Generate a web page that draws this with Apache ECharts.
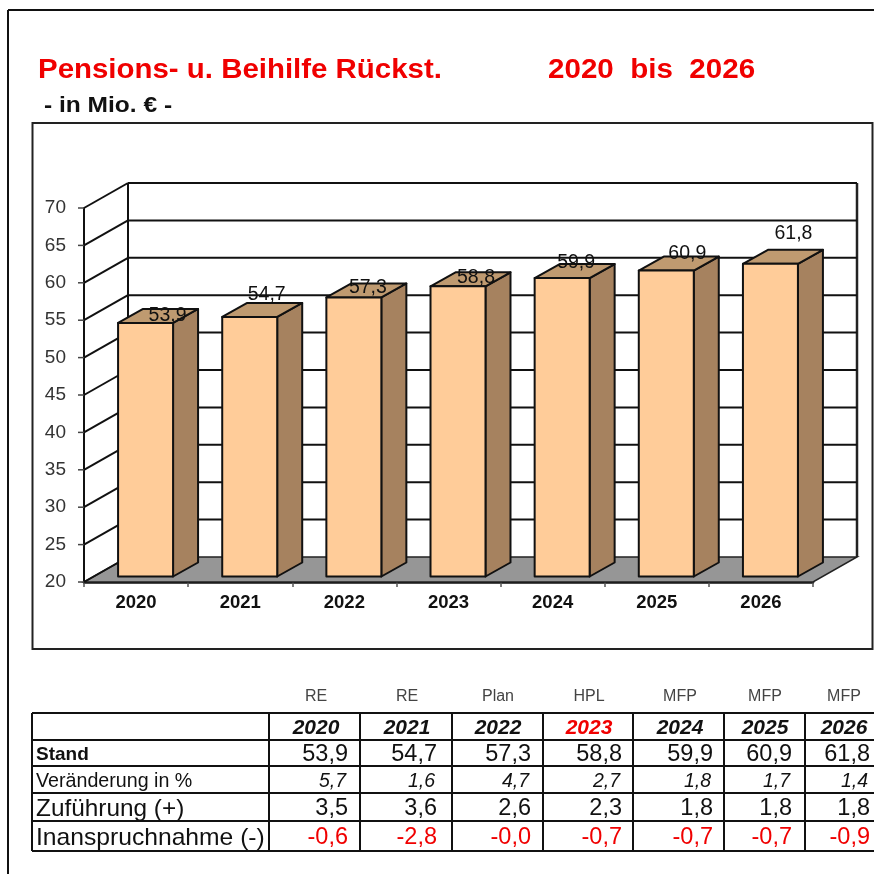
<!DOCTYPE html>
<html><head><meta charset="utf-8">
<style>html,body{margin:0;padding:0;background:#fff}#c{width:874px;height:874px}</style>
<script src="https://cdn.jsdelivr.net/npm/echarts@6/dist/echarts.min.js"></script>
</head><body><div id="c"></div>
<script>
const categories = ['2020','2021','2022','2023','2024','2025','2026'];
const stand = [53.9,54.7,57.3,58.8,59.9,60.9,61.8];
const yTicks = [20,25,30,35,40,45,50,55,60,65,70];
const planTypes = ['RE','RE','Plan','HPL','MFP','MFP','MFP'];
const standText = ['53,9','54,7','57,3','58,8','59,9','60,9','61,8'];
const changeText = ['5,7','1,6','4,7','2,7','1,8','1,7','1,4'];
const additionText = ['3,5','3,6','2,6','2,3','1,8','1,8','1,8'];
const usageText = ['-0,6','-2,8','-0,0','-0,7','-0,7','-0,7','-0,9'];

const FONT = '"Liberation Sans", Arial, sans-serif';
const wallDX = 44, wallDY = -25;
const barDX = 25, barDY = -14, barShiftX = 9.5, barShiftY = -5.5;
const labelDX = [22,17,14,18,14,21,23];
const labelDY = [-7,-22,-10,-9,-15,-17,-30];
const INK = '#111';

const colCenters = [316,407,498,589,680,765,844];
const colRights = [348,437,531,622,713,792,870];
const colLines = [32,269,360,452,543,633,724,805];
const rowLines = [713,740,766,793,821,851];

const graphics = [];
function line(x1,y1,x2,y2,w){graphics.push({type:'line',silent:true,z:5,shape:{x1,y1,x2,y2},style:{stroke:INK,lineWidth:w||2}});}
function text(t,x,y,font,fill,align,sx){graphics.push({type:'text',silent:true,z:6,x,y,scaleX:sx||1,style:{text:t,font,fill:fill||'#111',textAlign:align||'left',textVerticalAlign:'middle'}});}

line(8,10,874,10,2); line(8,10,8,874,2);
graphics.push({type:'rect',silent:true,z:1,shape:{x:32.5,y:123,width:840,height:526},style:{fill:'none',stroke:'#222',lineWidth:2}});
text('Pensions- u. Beihilfe Rückst.',38,71,'bold 27px '+FONT,'#f00000','left',1.09);
text('2020  bis  2026',548,71,'bold 27px '+FONT,'#f00000','left',1.095);
text('- in Mio. € -',44,106,'bold 22px '+FONT,'#111','left',1.115);

rowLines.forEach(y=>line(32,y,874,y,2));
colLines.forEach(x=>line(x,713,x,851,2));
const rowY = {plan:697,year:728,stand:755,change:782,add:809,use:838};
categories.forEach((c,i)=>{
  text(planTypes[i],colCenters[i],rowY.plan,'16px '+FONT,'#444','center');
  text(c,colCenters[i],rowY.year,'italic bold 21px '+FONT,c==='2023'?'#f00000':'#111','center');
  text(standText[i],colRights[i],rowY.stand,'23.5px '+FONT,'#111','right');
  text(changeText[i],colRights[i]-2,rowY.change,'italic 19.5px '+FONT,'#111','right');
  text(additionText[i],colRights[i],rowY.add,'23.5px '+FONT,'#111','right');
  text(usageText[i],colRights[i],rowY.use,'23.5px '+FONT,'#f00000','right');
});
text('Stand',36,rowY.stand,'bold 19px '+FONT);
text('Veränderung in %',36,rowY.change,'19.3px '+FONT,'#111','left',1.02);
text('Zuführung (+)',36,rowY.add,'24px '+FONT,'#111','left',1.015);
text('Inanspruchnahme (-)',36,rowY.use,'24px '+FONT,'#111','left',1.027);

const lineStyle = {stroke:INK,lineWidth:2,lineJoin:'round',fill:'none'};

const option = {
  animation:false,
  backgroundColor:'#fff',
  graphic:graphics,
  grid:{left:84,top:208,width:729,height:374,containLabel:false},
  xAxis:{type:'category',data:categories,boundaryGap:true,
    axisLine:{show:true,lineStyle:{color:INK,width:2.5}},
    axisTick:{show:true,alignWithLabel:false,length:5,lineStyle:{color:'#555',width:1.5}},
    axisLabel:{margin:11,color:'#111',fontFamily:FONT,fontWeight:'bold',fontSize:18.5},
    splitLine:{show:false}},
  yAxis:{type:'value',min:20,max:70,interval:5,
    axisLine:{show:true,onZero:false,lineStyle:{color:INK,width:2}},
    axisTick:{show:false},
    axisLabel:{margin:18,color:'#333',fontFamily:FONT,fontSize:19},
    splitLine:{show:false}},
  series:[
    {type:'custom',name:'floor',z:1,silent:true,coordinateSystem:'cartesian2d',data:[[0,20]],encode:{x:0,y:1},clip:false,
      renderItem(p,api){
        const s=api.size([1,0])[0];
        const a=api.coord([0,20]), t=api.coord([0,70]);
        const L=a[0]-s/2, R=L+s*categories.length, B=a[1], T=t[1];
        return {type:'group',children:[
          {type:'polygon',shape:{points:[[L,B],[L+wallDX,B+wallDY],[R+wallDX,B+wallDY],[R,B]]},style:{fill:'#969696',stroke:'#222',lineWidth:1.5}},
          {type:'line',shape:{x1:L+wallDX,y1:T+wallDY,x2:L+wallDX,y2:B+wallDY},style:lineStyle},
          {type:'line',shape:{x1:R+wallDX,y1:T+wallDY,x2:R+wallDX,y2:B+wallDY},style:{stroke:'#222',lineWidth:2.5}}
        ]};
      }},
    {type:'custom',name:'gridlines',z:2,silent:true,coordinateSystem:'cartesian2d',data:yTicks.map(v=>[0,v]),encode:{x:0,y:1},clip:false,
      renderItem(p,api){
        const v=api.value(1);
        const s=api.size([1,0])[0];
        const c=api.coord([0,v]);
        const L=c[0]-s/2, R=L+s*categories.length, y=c[1];
        const ch=[
          {type:'line',shape:{x1:L,y1:y,x2:L+wallDX,y2:y+wallDY},style:lineStyle},
          {type:'line',shape:{x1:L-6,y1:y,x2:L,y2:y},style:{stroke:'#444',lineWidth:1.5}}
        ];
        if(v>20) ch.push({type:'line',shape:{x1:L+wallDX,y1:y+wallDY,x2:R+wallDX,y2:y+wallDY},style:lineStyle});
        return {type:'group',children:ch};
      }},
    {type:'custom',name:'Stand',z:3,silent:true,coordinateSystem:'cartesian2d',data:stand.map((v,i)=>[i,v]),encode:{x:0,y:1},clip:false,
      renderItem(p,api){
        const i=api.value(0), v=api.value(1);
        const w=api.size([1,0])[0]*0.528;
        const top=api.coord([i,v]), base=api.coord([i,20]);
        const x0=top[0]+barShiftX-w/2, x1=x0+w, yt=top[1]+barShiftY, yb=base[1]+barShiftY;
        const st=(fill)=>({fill,stroke:INK,lineWidth:2,lineJoin:'round'});
        return {type:'group',children:[
          {type:'polygon',shape:{points:[[x1,yt],[x1+barDX,yt+barDY],[x1+barDX,yb+barDY],[x1,yb]]},style:st('#A6825F')},
          {type:'polygon',shape:{points:[[x0,yt],[x0+barDX,yt+barDY],[x1+barDX,yt+barDY],[x1,yt]]},style:st('#BF9A70')},
          {type:'rect',shape:{x:x0,y:yt,width:w,height:yb-yt},style:st('#FFCC99')}
        ]};
      }},
    {type:'custom',name:'labels',z:4,silent:true,coordinateSystem:'cartesian2d',data:stand.map((v,i)=>[i,v]),encode:{x:0,y:1},clip:false,
      renderItem(p,api){
        const i=api.value(0), v=api.value(1);
        const c=api.coord([i,v]);
        return {type:'text',x:c[0]+barShiftX+labelDX[i],y:c[1]+barShiftY+labelDY[i],
          style:{text:standText[i],font:'19.5px '+FONT,fill:'#111',textAlign:'center',textVerticalAlign:'middle'}};
      }}
  ]
};
const chart = echarts.init(document.getElementById('c'),null,{renderer:'canvas'});
chart.setOption(option);
</script></body></html>
